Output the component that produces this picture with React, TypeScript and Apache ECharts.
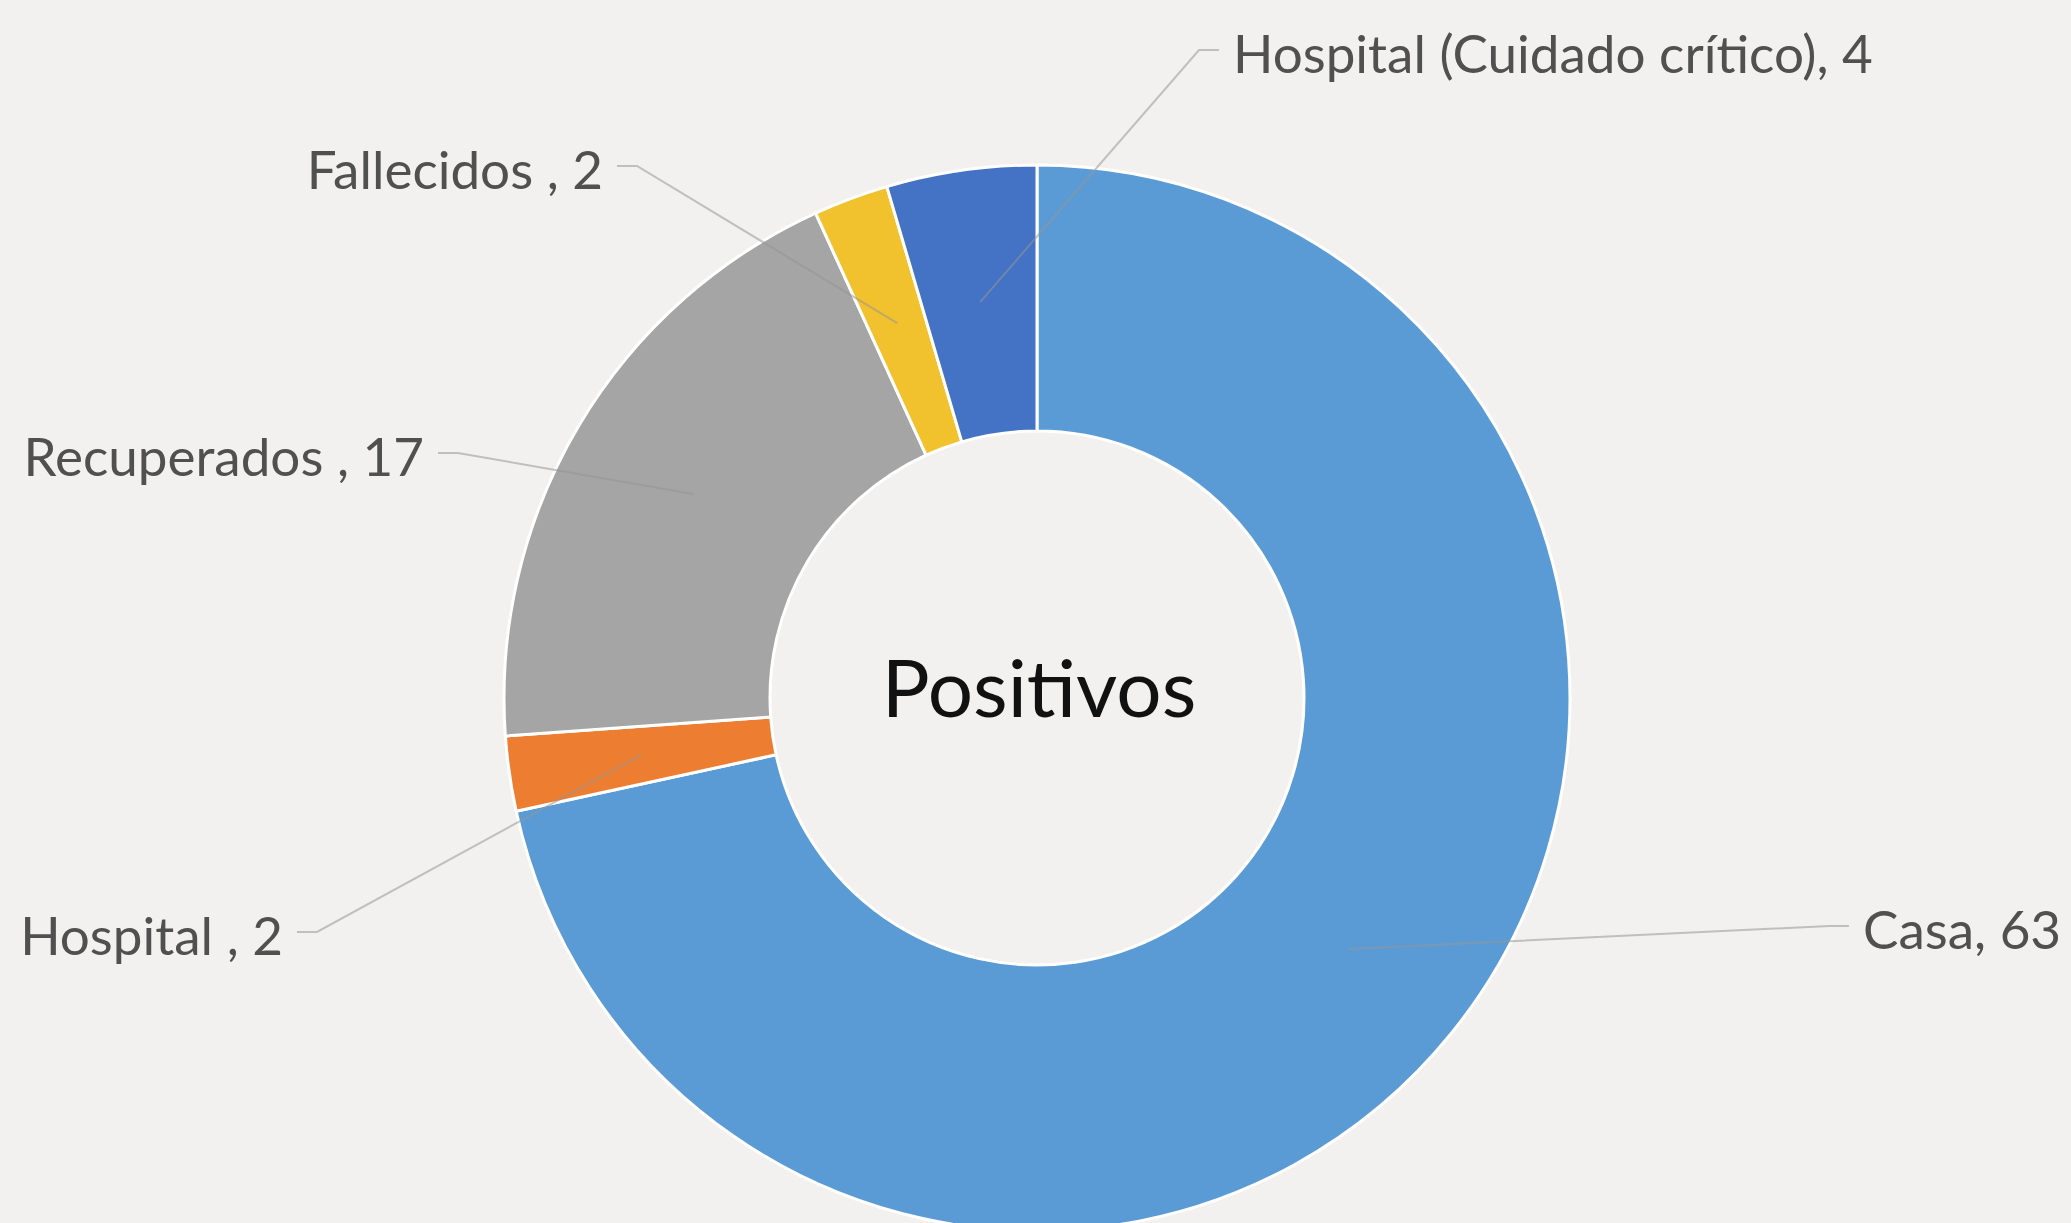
import React, { useEffect, useRef } from "react";
import * as echarts from "echarts";

const categories = ["Casa", "Hospital ", "Recuperados ", "Fallecidos ", "Hospital (Cuidado crítico)"];
const values = [63, 2, 17, 2, 4];
const colors = ["#5B9BD5", "#ED7D31", "#A5A5A5", "#F2C12E", "#4472C4"];
const centerLabel = "Positivos";

const W = 2071;
const H = 1223;
const CX = 1037;
const CY = 698;
const R_OUT = 533;
const R_IN = 267;
const R_MID = 400;

// label text anchors (layout only)
const labelPlacement = [
  { x: 1863, y: 928, align: "left" },
  { x: 283, y: 934, align: "right" },
  { x: 424, y: 455, align: "right" },
  { x: 603, y: 168, align: "right" },
  { x: 1233, y: 52, align: "left" },
];

export default function App() {
  const ref = useRef<HTMLDivElement>(null);
  useEffect(() => {
    if (!ref.current) return;
    const chart = echarts.init(ref.current, null, { renderer: "svg" });
    const total = values.reduce((a, b) => a + b, 0);
    const ringData = categories.map((name, i) => ({
      name,
      value: values[i],
      itemStyle: { color: colors[i] },
    }));
    const labelData = categories.map((name, i) => ({
      name,
      value: values[i],
    }));
    chart.setOption({
      animation: false,
      backgroundColor: "#F2F1EF",
      graphic: [
        {
          type: "text",
          x: CX + 2,
          y: CY - 12,
          style: {
            text: centerLabel,
            fill: "#111111",
            font: "80px Lato",
            align: "center",
            verticalAlign: "middle",
          },
          z: 10,
        },
      ],
      series: [
        {
          type: "pie",
          center: [CX, CY],
          radius: [R_IN, R_OUT],
          startAngle: 90,
          clockwise: true,
          silent: true,
          label: { show: false },
          labelLine: { show: false },
          itemStyle: { borderColor: "#FFFFFF", borderWidth: 3 },
          data: ringData,
          z: 2,
        },
        {
          type: "pie",
          center: [CX, CY],
          radius: [0, R_MID],
          startAngle: 90,
          clockwise: true,
          silent: true,
          avoidLabelOverlap: false,
          itemStyle: { color: "rgba(0,0,0,0)", borderWidth: 0 },
          emphasis: { disabled: true },
          label: {
            show: true,
            position: "outside",
            formatter: "{b}, {c}",
            fontFamily: "Lato",
            fontSize: 53,
            color: "#505050",
          },
          labelLine: {
            show: true,
            length: 10,
            length2: 10,
            lineStyle: { color: "rgba(150,150,150,0.55)", width: 2 },
          },
          labelLayout: (params: any) => {
            const i = params.dataIndex;
            const p = labelPlacement[i];
            let cum = 0;
            for (let k = 0; k < i; k++) cum += values[k];
            const theta = ((cum + values[i] / 2) / total) * Math.PI * 2;
            const ax = CX + R_MID * Math.sin(theta);
            const ay = CY - R_MID * Math.cos(theta);
            const dir = p.align === "left" ? -1 : 1;
            const ex = p.x + dir * 14;
            const ey = p.y - 2;
            const sx = ex + dir * 20;
            return {
              x: p.x,
              y: p.y,
              align: p.align,
              verticalAlign: "middle",
              labelLinePoints: [
                [ax, ay],
                [sx, ey],
                [ex, ey],
              ],
            };
          },
          data: labelData,
          z: 5,
        },
      ],
    });
    return () => chart.dispose();
  }, []);
  return (
    <div
      ref={ref}
      style={{ position: "fixed", left: 0, top: 0, width: W, height: H }}
    />
  );
}
